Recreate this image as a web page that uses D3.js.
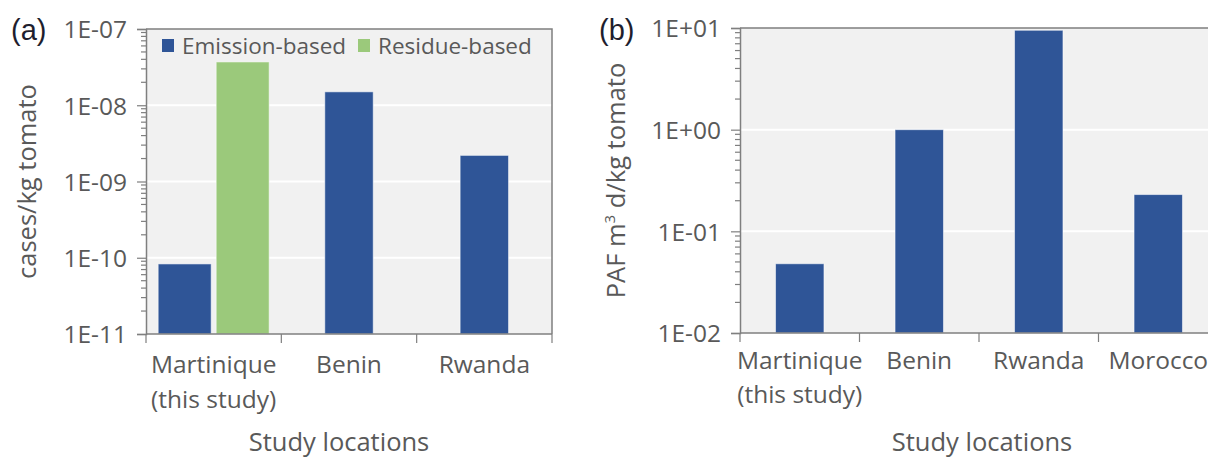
<!DOCTYPE html>
<html>
<head>
<meta charset="utf-8">
<script src="https://cdn.jsdelivr.net/npm/d3@7"></script>
<style>
  html, body { margin: 0; padding: 0; background: #fff; }
  svg { display: block; }
  text { font-family: "Open Sans", Lato, sans-serif; }
</style>
</head>
<body>
<svg id="chart" width="1208" height="457"></svg>
<script>
// ---------- data ----------
const categoriesA = [["Martinique", "(this study)"], ["Benin"], ["Rwanda"]];
const emissionA = [8.3e-11, 1.5e-8, 2.2e-9];
const residueA = [3.7e-8, null, null];
const seriesNamesA = ["Emission-based", "Residue-based"];
const tickValuesA = [1e-11, 1e-10, 1e-9, 1e-8, 1e-7];
const tickLabelsA = ["1E-11", "1E-10", "1E-09", "1E-08", "1E-07"];

const categoriesB = [["Martinique", "(this study)"], ["Benin"], ["Rwanda"], ["Morocco"]];
const pafB = [0.048, 1.0, 9.5, 0.23];
const tickValuesB = [1e-2, 1e-1, 1e0, 1e1];
const tickLabelsB = ["1E-02", "1E-01", "1E+00", "1E+01"];

// ---------- style ----------
const colors = ["#2f5597", "#9bc97b"];
const textGray = "#595959";
const axisGray = "#7f7f7f";
const bgGray = "#f1f1f1";
const barWidth = 53, barGap = 5;
const FONT = "'Open Sans', Lato, sans-serif";

const svg = d3.select("#chart");

function panel(cfg) {
  const g = svg.append("g");
  const y = d3.scaleLog().domain(cfg.domain).range([cfg.y1, cfg.y0]);
  const x = d3.scaleBand().domain(d3.range(cfg.categories.length)).range([cfg.x0, cfg.x1]).padding(0);

  // background
  g.append("rect").attr("x", cfg.x0).attr("y", cfg.y0)
    .attr("width", cfg.x1 - cfg.x0).attr("height", cfg.y1 - cfg.y0)
    .attr("fill", bgGray);

  // gridlines
  g.append("g").selectAll("line").data(cfg.tickValues.slice(1, -1)).join("line")
    .attr("x1", cfg.x0).attr("x2", cfg.x1)
    .attr("y1", d => y(d)).attr("y2", d => y(d))
    .attr("stroke", "#fff").attr("stroke-width", 2);

  // bars
  cfg.categories.forEach((c, i) => {
    const present = cfg.series.map((s, k) => ({ v: s.values[i], k })).filter(d => d.v != null);
    const n = present.length;
    const total = n * barWidth + (n - 1) * barGap;
    const cx = x(i) + x.bandwidth() / 2;
    const sub = d3.scaleBand().domain(present.map(d => d.k))
      .range([cx - total / 2, cx + total / 2]).paddingInner(barGap / (barWidth + barGap));
    g.append("g").selectAll("rect").data(present).join("rect")
      .attr("x", d => sub(d.k)).attr("width", sub.bandwidth())
      .attr("y", d => y(d.v)).attr("height", d => y(cfg.domain[0]) - y(d.v))
      .attr("fill", d => colors[d.k])
      .attr("stroke", "rgba(255,255,255,0.55)").attr("stroke-width", 1);
  });

  // border (top & right)
  g.append("path")
    .attr("d", `M${cfg.x0},${cfg.y0}H${cfg.x1}V${cfg.y1}`)
    .attr("fill", "none").attr("stroke", axisGray).attr("stroke-width", 1.5);

  // y axis
  const yAxis = g.append("g").attr("transform", `translate(${cfg.x0},0)`)
    .call(d3.axisLeft(y).tickValues(cfg.tickValues)
      .tickFormat((d, i) => cfg.tickLabels[i]).tickSize(9).tickPadding(10));
  yAxis.select(".domain").attr("stroke", axisGray).attr("stroke-width", 1.5);
  yAxis.selectAll(".tick line").attr("stroke", axisGray).attr("stroke-width", 1.2);
  yAxis.selectAll(".tick text").attr("fill", textGray).style("font-size", "24.5px")
    .style("font-family", FONT).attr("dy", "0.36em");
  // minor ticks
  const minor = [];
  for (let e = Math.log10(cfg.domain[0]); e < Math.log10(cfg.domain[1]); e++) {
    for (let m = 2; m <= 9; m++) minor.push(m * Math.pow(10, e));
  }
  g.append("g").selectAll("line").data(minor).join("line")
    .attr("x1", cfg.x0 - 5).attr("x2", cfg.x0)
    .attr("y1", d => y(d)).attr("y2", d => y(d))
    .attr("stroke", axisGray).attr("stroke-width", 1.2);

  // x axis
  const xAxis = g.append("g");
  xAxis.append("line").attr("x1", cfg.x0).attr("x2", cfg.x1)
    .attr("y1", cfg.y1).attr("y2", cfg.y1)
    .attr("stroke", axisGray).attr("stroke-width", 1.5);
  const bounds = d3.range(cfg.categories.length + 1).map(i => i < cfg.categories.length ? x(i) : cfg.x1);
  xAxis.selectAll(".ct").data(bounds).join("line")
    .attr("x1", d => d).attr("x2", d => d).attr("y1", cfg.y1).attr("y2", cfg.y1 + 9)
    .attr("stroke", axisGray).attr("stroke-width", 1.2);
  cfg.categories.forEach((c, i) => {
    const cx = x(i) + x.bandwidth() / 2;
    const t = xAxis.append("text").attr("x", cx).attr("y", cfg.catY)
      .attr("text-anchor", "middle").attr("fill", textGray).style("font-size", "24.5px");
    c.forEach((line, j) => t.append("tspan").attr("x", cx)
      .attr("dy", j === 0 ? 0 : 34.5).text(line));
  });

  // axis titles
  g.append("text").attr("x", cfg.titleX).attr("y", 451).attr("text-anchor", "middle")
    .attr("fill", textGray).style("font-size", "25.5px").text("Study locations");
  const yt = g.append("text")
    .attr("transform", `translate(${cfg.yTitleX},${(cfg.y0 + cfg.y1) / 2}) rotate(-90)`)
    .attr("text-anchor", "middle").attr("fill", textGray).style("font-size", "25.5px");
  cfg.yTitle(yt);

  // panel label
  g.append("text").attr("x", cfg.labelX).attr("y", 40).attr("fill", "#1e1e2e")
    .style("font-family", "'Liberation Sans', Arial, sans-serif")
    .style("font-size", "29px").text(cfg.label);

  return { g, x, y };
}

const pa = panel({
  x0: 146, x1: 552, y0: 29, y1: 334,
  domain: [1e-11, 1e-7], tickValues: tickValuesA, tickLabels: tickLabelsA,
  categories: categoriesA,
  series: [{ values: emissionA }, { values: residueA }],
  catY: 373, titleX: 339, yTitleX: 36, labelX: 11, label: "(a)",
  yTitle: t => t.text("cases/kg tomato")
});

// legend for panel a
const legend = pa.g.append("g");
const legendX = [162, 358];
seriesNamesA.forEach((name, k) => {
  legend.append("rect").attr("x", legendX[k]).attr("y", 39).attr("width", 12).attr("height", 13)
    .attr("fill", colors[k]);
  legend.append("text").attr("x", legendX[k] + 20).attr("y", 53.5).attr("fill", textGray)
    .style("font-size", "22.5px").text(name);
});

panel({
  x0: 740, x1: 1218, y0: 28, y1: 333,
  domain: [1e-2, 1e1], tickValues: tickValuesB, tickLabels: tickLabelsB,
  categories: categoriesB,
  series: [{ values: pafB }],
  catY: 368.5, titleX: 982, yTitleX: 625, labelX: 599, label: "(b)",
  yTitle: t => {
    t.append("tspan").text("PAF m");
    t.append("tspan").attr("dy", -10).style("font-size", "15px").text("3");
    t.append("tspan").attr("dy", 10).text(" d/kg tomato");
  }
});
</script>
</body>
</html>
